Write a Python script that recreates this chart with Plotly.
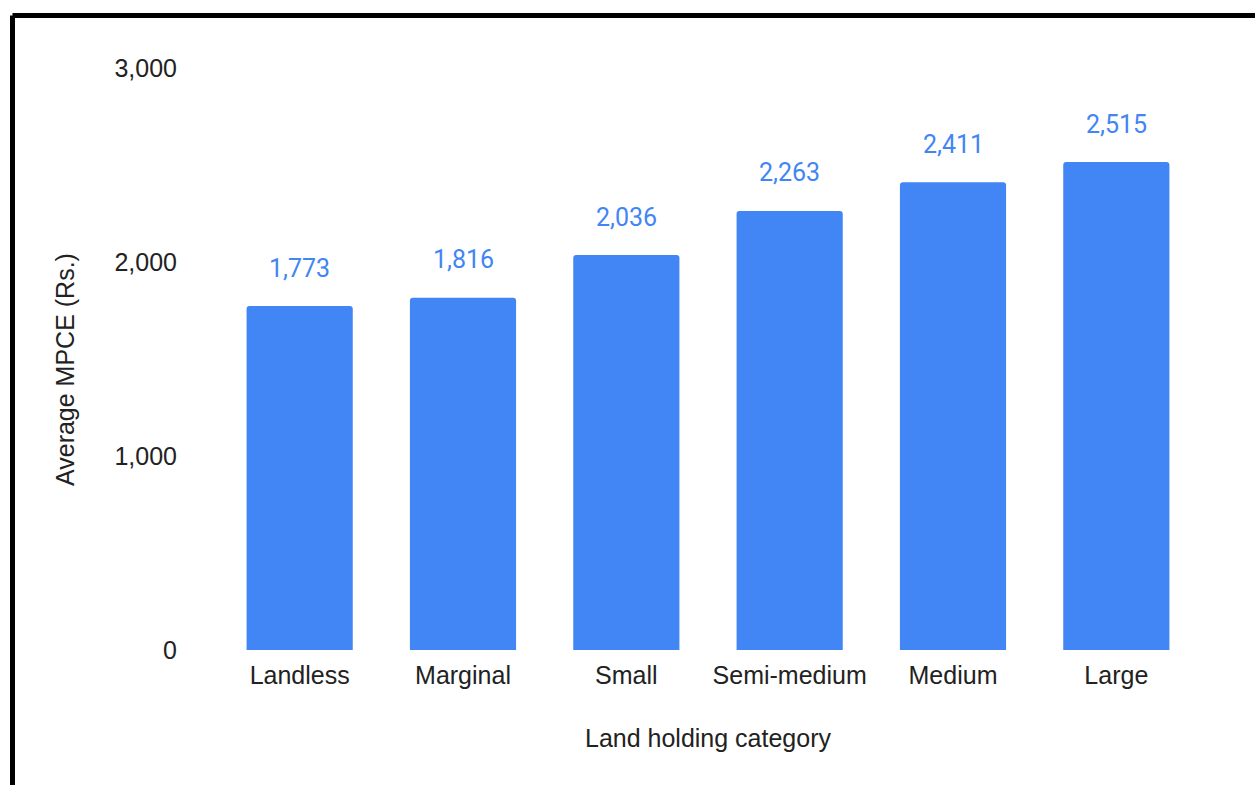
import plotly.graph_objects as go

categories = ["Landless", "Marginal", "Small", "Semi-medium", "Medium", "Large"]
mpce = [1773, 1816, 2036, 2263, 2411, 2515]
y_ticks = [0, 1000, 2000, 3000]
y_tick_labels = ["0", "1,000", "2,000", "3,000"]

W, H = 1255, 785
ML, MR, MT, MB = 218, 57, 68, 135
pw, ph = W - ML - MR, H - MT - MB

BLUE = "#4285F4"
FS = 25
TXT = "#222222"

fig = go.Figure(go.Bar(
    x=categories, y=mpce,
    marker=dict(color=BLUE, cornerradius=3, line=dict(width=0)),
    width=0.65,
    hoverinfo="skip",
))

for c, v in zip(categories, mpce):
    fig.add_annotation(x=c, y=v, text=f"{v:,}", showarrow=False,
                       yanchor="middle", yshift=38,
                       font=dict(family="Roboto", size=FS, color=BLUE))

# y axis title (placed as rotated text)
fig.add_annotation(xref="paper", yref="paper",
                   x=(65 - ML) / pw, y=(H - MB - 370) / ph,
                   text="Average MPCE (Rs.)", textangle=-90, showarrow=False,
                   xanchor="center", yanchor="middle",
                   font=dict(family="Liberation Sans, Arial", size=FS, color=TXT))

# frame lines (top and left border)
bx = (12.5 - ML) / pw
by = (H - MB - 15.5) / ph
fig.add_shape(type="line", xref="paper", yref="paper", x0=bx, x1=1.3, y0=by, y1=by,
              line=dict(color="black", width=5))
fig.add_shape(type="line", xref="paper", yref="paper", x0=bx, x1=bx, y0=by, y1=-0.5,
              line=dict(color="black", width=5))

fig.update_layout(
    width=W, height=H,
    margin=dict(l=ML, r=MR, t=MT, b=MB, pad=0),
    paper_bgcolor="white", plot_bgcolor="white",
    showlegend=False,
    font=dict(family="Liberation Sans, Arial", size=FS, color=TXT),
    xaxis=dict(
        title=dict(text="Land holding category", standoff=41,
                   font=dict(size=FS, color=TXT)),
        showline=False, showgrid=False, zeroline=False,
        ticks="outside", ticklen=3, tickcolor="rgba(0,0,0,0)",
        tickfont=dict(size=FS, color=TXT),
    ),
    yaxis=dict(
        range=[0, 3000], tickvals=y_ticks, ticktext=y_tick_labels,
        showline=False, showgrid=False, zeroline=False,
        ticks="outside", ticklen=35, tickcolor="rgba(0,0,0,0)",
        tickfont=dict(size=FS, color=TXT),
    ),
)

fig.write_html("out.html")
